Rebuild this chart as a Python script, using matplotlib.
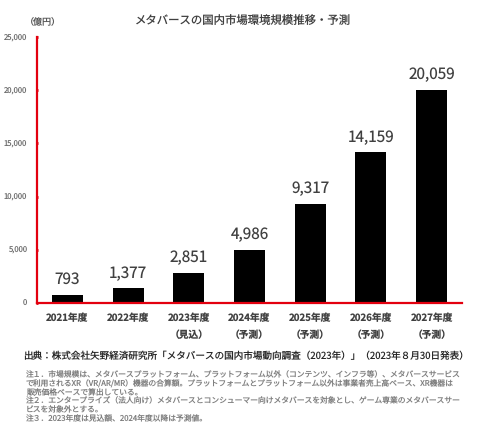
import matplotlib
matplotlib.use("Agg")
import matplotlib.pyplot as plt
from matplotlib.ticker import FuncFormatter

plt.rcParams['font.family'] = ['Noto Sans CJK JP', 'DejaVu Sans']
plt.rcParams['text.hinting'] = 'none'

title = "メタバースの国内市場環境規模推移・予測"
unit = "（億円）"
categories = ["2021年度", "2022年度", "2023年度\n（見込）", "2024年度\n（予測）",
              "2025年度\n（予測）", "2026年度\n（予測）", "2027年度\n（予測）"]
values = [793, 1377, 2851, 4986, 9317, 14159, 20059]
yticks = [0, 5000, 10000, 15000, 20000, 25000]
source = "出典：株式会社矢野経済研究所「メタバースの国内市場動向調査（2023年）」（2023年８月30日発表）"
notes = [
    "注１．市場規模は、メタバースプラットフォーム、プラットフォーム以外（コンテンツ、インフラ等）、メタバースサービス",
    "で利用されるXR（VR/AR/MR）機器の合算額。プラットフォームとプラットフォーム以外は事業者売上高ベース、XR機器は",
    "販売価格ベースで算出している。",
    "注２．エンタープライズ（法人向け）メタバースとコンシューマー向けメタバースを対象とし、ゲーム専業のメタバースサー",
    "ビスを対象外とする。",
    "注３．2023年度は見込額、2024年度以降は予測値。",
]

W, H = 480, 432
fig = plt.figure(figsize=(W / 100, H / 100), dpi=100)
fig.patch.set_facecolor("white")
ax = fig.add_axes([37 / W, 1 - 303 / H, (462 - 37) / W, (303 - 37) / H])

red = "#E3000F"
x = range(len(values))
ax.bar(x, values, width=0.51, color="black", zorder=2)
for xi, v in zip(x, values):
    ax.annotate(f"{v:,}", (xi, v), xytext=(0, 5), textcoords="offset points",
                ha="center", va="bottom", fontsize=11, color="#404040")

ax.set_xlim(-0.5, len(values) - 0.5)
ax.set_ylim(0, 25000)
ax.set_yticks(yticks)
ax.yaxis.set_major_formatter(FuncFormatter(lambda v, p: f"{int(v):,}"))
ax.set_xticks(list(x))
ax.set_xticklabels(categories, fontsize=7, fontweight="bold", color="#404040", linespacing=1.9)
ax.tick_params(axis="x", length=0, pad=7)
ax.tick_params(axis="y", length=2, width=2, color=red, direction="inout", labelsize=5.5,
               labelcolor="#707070", pad=6)
for s in ["top", "right"]:
    ax.spines[s].set_visible(False)
for s in ["left", "bottom"]:
    ax.spines[s].set_color(red)
    ax.spines[s].set_linewidth(1.6)

fig.text(243 / W, 1 - 21 / H, title, ha="center", va="center", fontsize=8.2, color="#404040")
fig.text(43 / W, 1 - 21 / H, unit, ha="center", va="center", fontsize=6.5, color="#595959")
fig.text(23 / W, 1 - 356 / H, source, ha="left", va="center", fontsize=6.9, color="#262626")
note_y = [375, 384, 392.5, 401, 410, 419]
for ny, line in zip(note_y, notes):
    fig.text(26 / W, 1 - ny / H, line, ha="left", va="center", fontsize=5.6, color="#7f7f7f")

fig.savefig("out.png", dpi=100, facecolor="white")
